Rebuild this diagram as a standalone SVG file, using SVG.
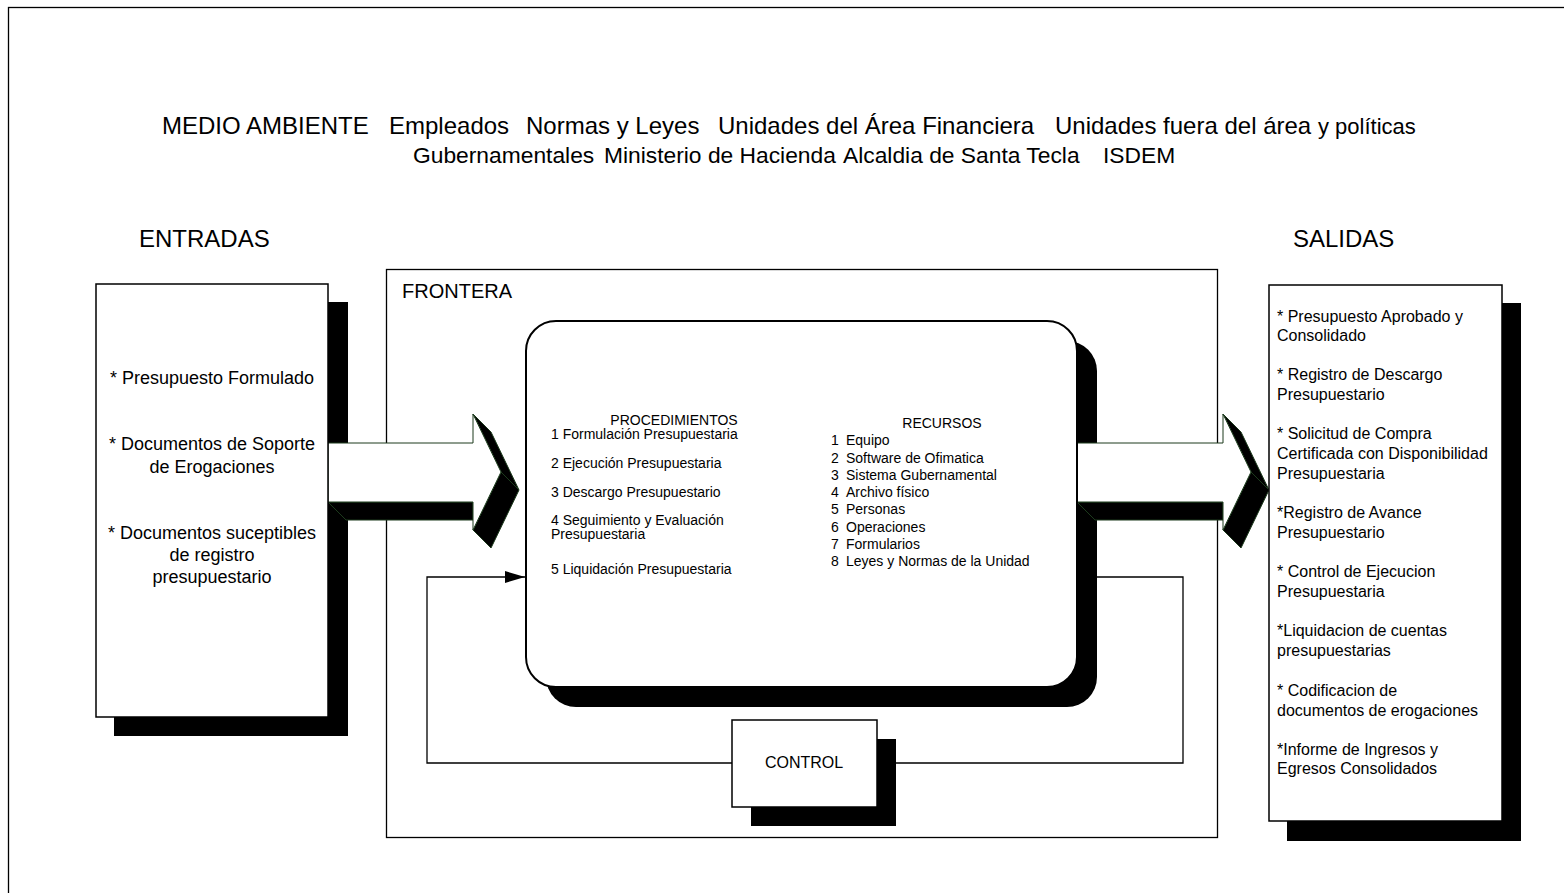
<svg xmlns="http://www.w3.org/2000/svg" width="1564" height="893" viewBox="0 0 1564 893">
  <style>
    text { font-family: "Liberation Sans", Arial, sans-serif; fill: #000; }
    .title1 { font-size: 24px; }
    .title2 { font-size: 22.8px; }
    .head { font-size: 24px; }
    .box { fill: #fff; stroke: #000; stroke-width: 1.5; }
    .shadow { fill: #000; }
    .face { fill: #fff; stroke: #1c3a1c; stroke-width: 1; }
    .side { fill: #000; stroke: #1c3a1c; stroke-width: 1; }
    .line { fill: none; stroke: #000; stroke-width: 1.3; }
    .io { font-size: 18px; }
    .out { font-size: 16px; }
    .proc { font-size: 14px; }
  </style>
  <defs>
    <marker id="arrow" viewBox="0 0 20 12" refX="20" refY="6" markerWidth="20" markerHeight="12" markerUnits="userSpaceOnUse" orient="auto">
      <path d="M0,0 L20,6 L0,12 Z" fill="#000"/>
    </marker>
  </defs>

  <rect width="1564" height="893" fill="#fff"/>
  <!-- outer frame -->
  <rect x="8.5" y="7.5" width="1570" height="900" fill="none" stroke="#000" stroke-width="1.3"/>

  <!-- environment -->
  <g id="medio-ambiente">
    <text class="title1" y="134"><tspan x="162">MEDIO AMBIENTE</tspan><tspan x="389">Empleados</tspan><tspan x="526">Normas y Leyes</tspan><tspan x="718">Unidades del Área Financiera</tspan><tspan x="1055">Unidades fuera del área</tspan></text>
    <text x="1318" y="134" font-size="22">y políticas</text>
    <text class="title2" y="163"><tspan x="413">Gubernamentales</tspan><tspan x="604">Ministerio de Hacienda</tspan><tspan x="843">Alcaldia de Santa Tecla</tspan><tspan x="1103">ISDEM</tspan></text>
  </g>

  <text id="entradas" class="head" x="139" y="247">ENTRADAS</text>
  <text id="salidas" class="head" x="1293" y="247">SALIDAS</text>

  <!-- boundary -->
  <g id="frontera">
    <rect x="386.5" y="269.5" width="831" height="568" fill="none" stroke="#000" stroke-width="1.3"/>
    <text x="402" y="298" font-size="20">FRONTERA</text>
  </g>

  <!-- feedback loop -->
  <g id="connectors">
    <polyline class="line" points="732,763 427,763 427,577 525,577" marker-end="url(#arrow)"/>
    <polyline class="line" points="877,763 1183,763 1183,577 1097,577"/>
  </g>

  <!-- inputs -->
  <g id="entradas-box">
    <rect class="shadow" x="114" y="302" width="234" height="434"/>
    <!-- 3D input arrow -->
    <polygon class="side" points="328,502 473,502 473,520 346,520"/>
    <polygon class="side" points="473,414 491,432 519,490 501,472"/>
    <polygon class="side" points="501,472 519,490 491,548 473,530"/>
    <polygon class="face" points="328,443 473,443 473,414 501,472 473,530 473,502 328,502"/>
    <rect class="box" x="96" y="284" width="232" height="433"/>
    <g class="io" text-anchor="middle">
      <text x="212" y="384">* Presupuesto Formulado</text>
      <text x="212" y="450">* Documentos de Soporte</text>
      <text x="212" y="473">de Erogaciones</text>
      <text x="212" y="539">* Documentos suceptibles</text>
      <text x="212" y="561">de registro</text>
      <text x="212" y="583">presupuestario</text>
    </g>
  </g>

  <!-- process -->
  <g id="proceso">
    <rect class="shadow" x="546" y="341" width="551" height="366" rx="30" ry="30"/>
    <!-- 3D output arrow -->
    <polygon class="side" points="1077,502 1223,502 1223,520 1095,520"/>
    <polygon class="side" points="1223,414 1241,432 1269,490 1251,472"/>
    <polygon class="side" points="1251,472 1269,490 1241,548 1223,530"/>
    <polygon class="face" points="1077,443 1223,443 1223,414 1251,472 1223,530 1223,502 1077,502"/>
    <rect x="526" y="321" width="551" height="366" rx="30" ry="30" fill="#fff" stroke="#000" stroke-width="2"/>
    <g class="proc">
      <text x="674" y="425" text-anchor="middle">PROCEDIMIENTOS</text>
      <text x="551" y="439">1 Formulación Presupuestaria</text>
      <text x="551" y="468">2 Ejecución Presupuestaria</text>
      <text x="551" y="497">3 Descargo Presupuestario</text>
      <text x="551" y="525">4 Seguimiento y Evaluación</text>
      <text x="551" y="539">Presupuestaria</text>
      <text x="551" y="574">5 Liquidación Presupuestaria</text>

      <text x="942" y="428" text-anchor="middle">RECURSOS</text>
      <text y="445"><tspan x="831">1</tspan><tspan x="846">Equipo</tspan></text>
      <text y="463"><tspan x="831">2</tspan><tspan x="846">Software de Ofimatica</tspan></text>
      <text y="480"><tspan x="831">3</tspan><tspan x="846">Sistema Gubernamental</tspan></text>
      <text y="497"><tspan x="831">4</tspan><tspan x="846">Archivo físico</tspan></text>
      <text y="514"><tspan x="831">5</tspan><tspan x="846">Personas</tspan></text>
      <text y="532"><tspan x="831">6</tspan><tspan x="846">Operaciones</tspan></text>
      <text y="549"><tspan x="831">7</tspan><tspan x="846">Formularios</tspan></text>
      <text y="566"><tspan x="831">8</tspan><tspan x="846">Leyes y Normas de la Unidad</tspan></text>
    </g>
  </g>

  <!-- outputs -->
  <g id="salidas-box">
    <rect class="shadow" x="1287" y="303" width="234" height="538"/>
    <rect class="box" x="1269" y="285" width="233" height="536"/>
    <g class="out">
      <text x="1277" y="322">* Presupuesto Aprobado y</text>
      <text x="1277" y="341">Consolidado</text>
      <text x="1277" y="380">* Registro de Descargo</text>
      <text x="1277" y="400">Presupuestario</text>
      <text x="1277" y="439">* Solicitud de Compra</text>
      <text x="1277" y="459">Certificada con Disponibilidad</text>
      <text x="1277" y="479">Presupuestaria</text>
      <text x="1277" y="518">*Registro de Avance</text>
      <text x="1277" y="538">Presupuestario</text>
      <text x="1277" y="577">* Control de Ejecucion</text>
      <text x="1277" y="597">Presupuestaria</text>
      <text x="1277" y="636">*Liquidacion de cuentas</text>
      <text x="1277" y="656">presupuestarias</text>
      <text x="1277" y="696">* Codificacion de</text>
      <text x="1277" y="716">documentos de erogaciones</text>
      <text x="1277" y="755">*Informe de Ingresos y</text>
      <text x="1277" y="774">Egresos Consolidados</text>
    </g>
  </g>

  <!-- control -->
  <g id="control">
    <rect class="shadow" x="751" y="739" width="145" height="87"/>
    <rect class="box" x="732" y="720" width="145" height="87"/>
    <text x="804" y="768" font-size="16" text-anchor="middle">CONTROL</text>
  </g>
</svg>
